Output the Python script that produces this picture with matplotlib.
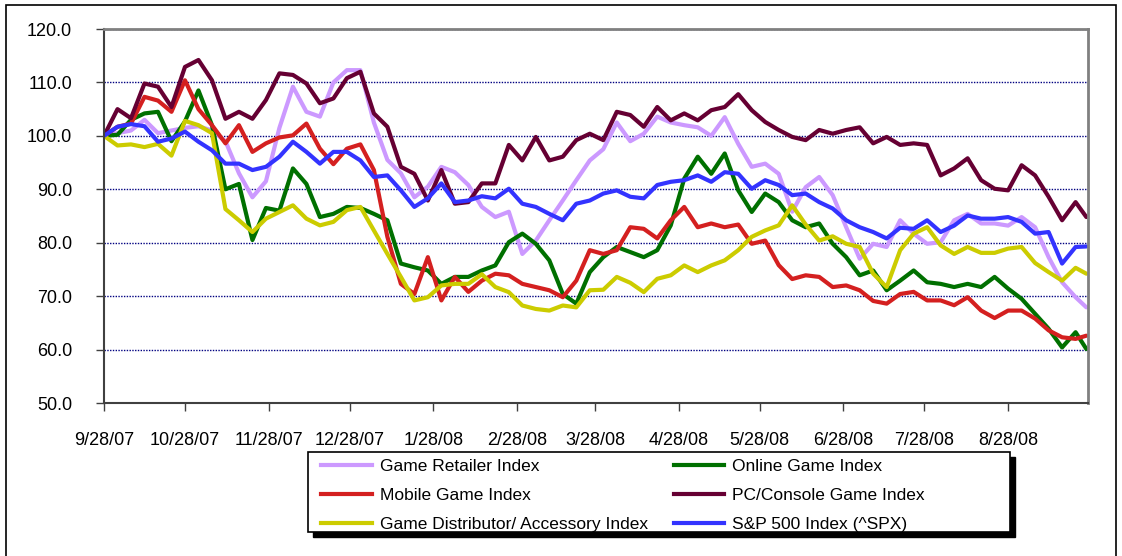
import matplotlib
matplotlib.use('Agg')
import matplotlib.pyplot as plt
import pandas as pd
from matplotlib.patches import Rectangle
from matplotlib.lines import Line2D

plt.rcParams['font.family'] = ['Liberation Sans', 'DejaVu Sans']

# ---------------- data ----------------
start_date = pd.Timestamp('2007-09-28')
day_offsets = list(range(0, 361, 5)) + [364]   # sampling days since 9/28/07

game_retailer = [100, 100.5, 101, 103, 100.5, 101, 101.5, 101.8, 101, 99, 93, 88.5, 91.5,
                 101.5, 109.2, 104.5, 103.6, 110, 112.3, 112.3, 102.5, 95.5, 93, 88.5, 90.5,
                 94.2, 93.2, 90.8, 86.7, 84.8, 85.8, 77.9, 80.4, 84.2, 87.9, 91.7, 95.4,
                 97.5, 102.5, 99, 100.4, 103.6, 102.5, 102, 101.6, 100, 103.5, 98.5, 94.2, 94.8,
                 92.9, 85.8, 90.4, 92.3, 88.9, 82.9, 77, 79.8, 79.2, 84.2, 81.7, 79.8,
                 80.1, 84.2, 85.4, 83.6, 83.6, 83.2, 84.8, 82.9, 77.3, 72.6, 69.8, 67.9]

online_game = [100, 100.2, 103, 104.2, 104.5, 99, 102.7, 108.5, 102, 90, 91, 80.5, 86.5,
               86, 93.9, 91, 84.8, 85.4, 86.7, 86.5, 85.4, 84.2, 76.1, 75.4, 74.8,
               72.3, 73.6, 73.6, 74.8, 75.75, 80.1, 81.7, 79.8, 76.7, 70.4, 68.6, 74.5,
               77.3, 79.2, 78.25, 77.3, 78.6, 83.25, 92, 96.1, 92.9, 96.7, 89.8, 85.75, 89.2,
               87.6, 84.2, 82.9, 83.6, 79.8, 77.3, 73.9, 74.8, 71.1, 72.9, 74.8, 72.6,
               72.3, 71.7, 72.3, 71.7, 73.6, 71.4, 69.5, 66.7, 63.9, 60.4, 63.25, 60.1]

mobile_game = [100, 101.7, 102.3, 107.3, 106.6, 104.5, 110.4, 105, 102, 98.6, 102, 97, 98.6,
               99.7, 100.1, 102.3, 97.6, 94.7, 97.6, 98.4, 93.6, 81.1, 72.3, 70.4, 77.3,
               69.2, 73.6, 70.8, 72.9, 74.2, 73.9, 72.3, 71.7, 71.1, 69.8, 72.9, 78.6,
               77.9, 78.6, 82.9, 82.6, 80.8, 84.2, 86.7, 82.9, 83.6, 82.9, 83.4, 79.8, 80.4,
               75.8, 73.2, 73.9, 73.6, 71.7, 72, 71.1, 69.1, 68.6, 70.4, 70.8, 69.2,
               69.2, 68.3, 69.8, 67.3, 65.9, 67.3, 67.3, 65.8, 63.6, 62.3, 62, 62.6]

pc_console = [100, 105, 103.3, 109.8, 109.2, 105.4, 112.9, 114.2, 110.4, 103.2, 104.5, 103.2, 106.7,
              111.7, 111.4, 109.8, 106.1, 107, 110.8, 112, 104.2, 101.7, 94.2, 92.9, 87.9,
              93.6, 87.3, 87.6, 91.1, 91.1, 98.3, 95.4, 99.8, 95.4, 96.1, 99.2, 100.4,
              99.2, 104.5, 103.9, 101.7, 105.4, 102.9, 104.2, 102.9, 104.8, 105.4, 107.8, 104.8, 102.6,
              101.1, 99.8, 99.2, 101.1, 100.4, 101.1, 101.6, 98.6, 99.8, 98.3, 98.6, 98.3,
              92.6, 93.9, 95.8, 91.7, 90.1, 89.8, 94.5, 92.6, 88.6, 84.2, 87.6, 84.8]

distributor = [100, 98.2, 98.4, 97.9, 98.5, 96.3, 102.8, 102, 100.5, 86.3, 84.2, 82, 84.5,
               85.75, 87, 84.5, 83.25, 83.9, 86.1, 86.7, 82.3, 77.9, 73.6, 69.2, 69.8,
               72, 72.3, 72.3, 74.1, 71.7, 70.75, 68.25, 67.6, 67.3, 68.25, 67.9, 71.1,
               71.2, 73.6, 72.5, 70.75, 73.25, 73.9, 75.75, 74.5, 75.75, 76.7, 78.6, 81.1, 82.3,
               83.25, 87, 83.4, 80.4, 81.2, 79.8, 79.2, 74.2, 71.7, 78.6, 81.7, 82.9,
               79.5, 77.9, 79.2, 78.1, 78.1, 78.9, 79.2, 76.2, 74.5, 72.9, 75.3, 74.2]

sp500 = [100, 101.7, 102.2, 101.8, 98.9, 99.5, 100.8, 98.9, 97.3, 94.8, 94.8, 93.6, 94.2,
         96.1, 98.9, 97, 94.8, 97, 97, 95.4, 92.3, 92.6, 89.8, 86.7, 88.3,
         91.1, 87.6, 87.9, 88.7, 88.3, 90.1, 87.3, 86.7, 85.4, 84.2, 87.3, 87.9,
         89.2, 89.8, 88.6, 88.3, 90.8, 91.4, 91.7, 92.6, 91.4, 93.2, 92.9, 90.1, 91.7,
         90.8, 88.9, 89.2, 87.6, 86.4, 84.2, 82.9, 82, 80.8, 82.8, 82.6, 84.2,
         82, 83.2, 85.1, 84.5, 84.5, 84.8, 83.9, 81.7, 82, 76.1, 79.2, 79.3]

series_names = ['Game Retailer Index', 'Online Game Index', 'Mobile Game Index',
                'PC/Console Game Index', 'Game Distributor/ Accessory Index', 'S&P 500 Index (^SPX)']

tick_dates = ['2007-09-28', '2007-10-28', '2007-11-28', '2007-12-28', '2008-01-28', '2008-02-28',
              '2008-03-28', '2008-04-28', '2008-05-28', '2008-06-28', '2008-07-28', '2008-08-28']
tick_labels = ['9/28/07', '10/28/07', '11/28/07', '12/28/07', '1/28/08', '2/28/08',
               '3/28/08', '4/28/08', '5/28/08', '6/28/08', '7/28/08', '8/28/08']
y_ticks = [50, 60, 70, 80, 90, 100, 110, 120]

# ---------------- figure ----------------
W, H = 1122, 556
fig = plt.figure(figsize=(W / 100, H / 100), dpi=100)
fig.patch.set_facecolor('white')

# outer border of the chart object
fig.add_artist(Rectangle((6 / W, -0.02), 1110 / W, 1 - 5 / H + 0.02, transform=fig.transFigure,
                         fill=False, edgecolor='black', linewidth=1.2))

ax = fig.add_axes([104 / W, 1 - 403 / H, 984 / W, 374 / H])

dates = start_date + pd.to_timedelta(day_offsets, unit='D')
colors = {'Game Retailer Index': '#CC99FF', 'Online Game Index': '#007000',
          'Mobile Game Index': '#D42020', 'PC/Console Game Index': '#660033',
          'Game Distributor/ Accessory Index': '#CCCC00', 'S&P 500 Index (^SPX)': '#3333FF'}
data = [game_retailer, online_game, mobile_game, pc_console, distributor, sp500]
for name, vals in zip(series_names, data):
    ax.plot(dates, vals, color=colors[name], linewidth=3.0, solid_joinstyle='round',
            solid_capstyle='round', label=name)

ax.set_xlim(start_date, start_date + pd.Timedelta(days=364.6))
ax.set_ylim(50, 120)
ax.set_yticks(y_ticks)
ax.set_yticklabels([f'{v:.1f}' for v in y_ticks])
ax.set_xticks(pd.to_datetime(tick_dates))
ax.set_xticklabels(tick_labels)
ax.tick_params(axis='both', labelsize=13, direction='out', length=6, width=1, color='#404040')
ax.tick_params(axis='y', pad=17)
ax.tick_params(axis='x', pad=15)

ax.yaxis.grid(True, linestyle=(0, (1, 1)), color='#000080', linewidth=1.0)
ax.set_axisbelow(True)
for s in ['top', 'right']:
    ax.spines[s].set_color('#808080')
    ax.spines[s].set_linewidth(2)
for s in ['left', 'bottom']:
    ax.spines[s].set_color('#404040')
    ax.spines[s].set_linewidth(1.5)

# legend box with shadow
lx0, ly0, lx1, ly1 = 308, 452, 1010, 532
fig.add_artist(Rectangle(((lx0 + 5) / W, 1 - (ly1 + 5) / H), (lx1 - lx0) / W, (ly1 - ly0) / H,
                         transform=fig.transFigure, facecolor='black', edgecolor='black', zorder=5))
fig.add_artist(Rectangle((lx0 / W, 1 - ly1 / H), (lx1 - lx0) / W, (ly1 - ly0) / H,
                         transform=fig.transFigure, facecolor='white', edgecolor='black',
                         linewidth=1.2, zorder=6))

order = ['Game Retailer Index', 'Mobile Game Index', 'Game Distributor/ Accessory Index',
         'Online Game Index', 'PC/Console Game Index', 'S&P 500 Index (^SPX)']
leg_handles = [Line2D([], [], color=colors[n], linewidth=3) for n in order]
leg = fig.legend(leg_handles, order, ncol=2, loc='upper left',
                 bbox_to_anchor=(318 / W, 1 - 455 / H), frameon=False, fontsize=12.5,
                 handlelength=2.9, handletextpad=0.45, columnspacing=1.5,
                 labelspacing=0.82, borderaxespad=0, borderpad=0.2)
leg.set_zorder(7)

fig.savefig('out.png', dpi=100)
